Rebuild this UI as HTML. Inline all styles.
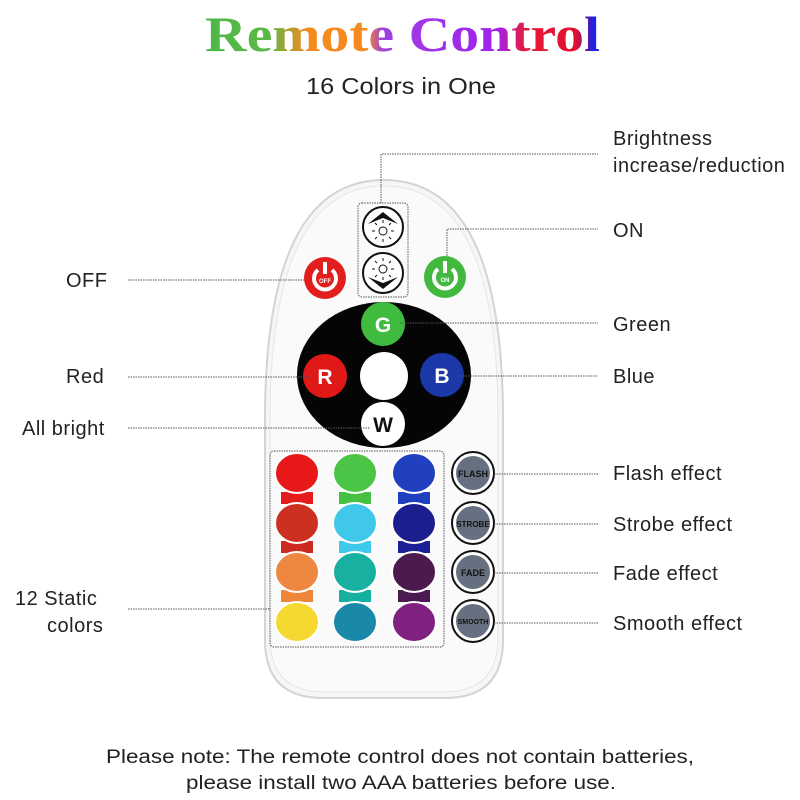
<!DOCTYPE html>
<html><head><meta charset="utf-8"><style>
html,body{margin:0;padding:0;background:#fff;width:800px;height:800px;overflow:hidden}
svg{display:block}
.l{font-family:"Liberation Sans",sans-serif;font-size:20px;fill:#222;letter-spacing:0.5px}
.d{stroke:#555;stroke-width:1;stroke-dasharray:1.5 1;fill:none}
.e{font-family:"Liberation Sans",sans-serif;font-size:9px;fill:#111;text-anchor:middle;font-weight:bold}
</style></head><body>
<svg width="800" height="800" viewBox="0 0 800 800">
<defs>
<linearGradient id="tg" x1="205" x2="600" y1="0" y2="0" gradientUnits="userSpaceOnUse">
<stop offset="0" stop-color="#4db848"/><stop offset="0.16" stop-color="#5cb846"/>
<stop offset="0.26" stop-color="#f58a1f"/><stop offset="0.41" stop-color="#f58a1f"/>
<stop offset="0.45" stop-color="#a040e0"/><stop offset="0.74" stop-color="#a020f0"/>
<stop offset="0.81" stop-color="#e81a3a"/><stop offset="0.94" stop-color="#e01030"/>
<stop offset="0.98" stop-color="#2020e0"/></linearGradient>
</defs>
<text x="205" y="51" textLength="395" lengthAdjust="spacingAndGlyphs" font-family="Liberation Serif,serif" font-weight="bold" font-size="50" fill="url(#tg)">Remote Control</text>
<text x="306" y="94" textLength="190" lengthAdjust="spacingAndGlyphs" class="l" style="font-size:23px;letter-spacing:0">16 Colors in One</text>

<!-- remote body -->
<path d="M265 420 C265 250 310 180 384 180 C458 180 503 250 503 420 L503 640 Q503 698 445 698 L323 698 Q265 698 265 640 Z" fill="#f6f6f6" stroke="#d4d4d4" stroke-width="2"/>
<path d="M270 420 C270 255 313 186 384 186 C455 186 498 255 498 420 L498 638 Q498 692 443 692 L325 692 Q270 692 270 638 Z" fill="#fafafa" stroke="#e6e6e6" stroke-width="1"/>

<!-- brightness box -->
<rect x="358" y="203" width="50" height="94" rx="4" class="d"/>
<circle cx="383" cy="227" r="20" fill="#fff" stroke="#111" stroke-width="2"/>
<path d="M368 224 L383 212 L398 224 L383 218 Z" fill="#111"/>
<circle cx="383" cy="231" r="4" fill="none" stroke="#111"/>
<path d="M375 231h-3M391 231h3M383 223v-3M383 239v3M377 225l-2-2M389 225l2-2M377 237l-2 2M389 237l2 2" stroke="#111"/>
<circle cx="383" cy="273" r="20" fill="#fff" stroke="#111" stroke-width="2"/>
<path d="M368 277 L383 289 L398 277 L383 283 Z" fill="#111"/>
<circle cx="383" cy="269" r="4" fill="none" stroke="#111"/>
<path d="M375 269h-3M391 269h3M383 261v-3M383 277v3M377 263l-2-2M389 263l2-2M377 275l-2 2M389 275l2 2" stroke="#111"/>

<!-- OFF / ON -->
<circle cx="325" cy="278" r="21" fill="#e31e1e"/>
<path d="M318 270 A11 11 0 1 0 332 270" stroke="#fff" stroke-width="4" fill="none"/>
<rect x="323" y="262" width="4" height="12" fill="#fff"/>
<text x="325" y="283" class="e" style="font-size:6px;fill:#fff">OFF</text>
<circle cx="445" cy="277" r="21" fill="#42b83f"/>
<path d="M438 269 A11 11 0 1 0 452 269" stroke="#fff" stroke-width="4" fill="none"/>
<rect x="443" y="261" width="4" height="12" fill="#fff"/>
<text x="445" y="282" class="e" style="font-size:6px;fill:#fff">ON</text>

<!-- black ellipse -->
<ellipse cx="384" cy="375" rx="87" ry="73" fill="#050505"/>
<circle cx="383" cy="324" r="22" fill="#3fbb3f"/>
<text x="383" y="332" text-anchor="middle" font-family="Liberation Sans,sans-serif" font-weight="bold" font-size="21" fill="#fff">G</text>
<circle cx="325" cy="376" r="22" fill="#e01818"/>
<text x="325" y="384" text-anchor="middle" font-family="Liberation Sans,sans-serif" font-weight="bold" font-size="21" fill="#fff">R</text>
<circle cx="442" cy="375" r="22" fill="#1a38a8"/>
<text x="442" y="383" text-anchor="middle" font-family="Liberation Sans,sans-serif" font-weight="bold" font-size="21" fill="#fff">B</text>
<circle cx="384" cy="376" r="24" fill="#fff"/>
<circle cx="383" cy="424" r="22" fill="#fff"/>
<text x="383" y="432" text-anchor="middle" font-family="Liberation Sans,sans-serif" font-weight="bold" font-size="21" fill="#111">W</text>

<!-- color grid -->
<rect x="270" y="451" width="174" height="196" rx="4" class="d"/>
<g>
<rect x="281" y="492" width="32" height="12" fill="#e51c1c"/><rect x="339" y="492" width="32" height="12" fill="#45c042"/><rect x="398" y="492" width="32" height="12" fill="#1f3fbf"/>
<rect x="281" y="541" width="32" height="12" fill="#cc2a1e"/><rect x="339" y="541" width="32" height="12" fill="#3ec8ec"/><rect x="398" y="541" width="32" height="12" fill="#1b1f95"/>
<rect x="281" y="590" width="32" height="12" fill="#ee8538"/><rect x="339" y="590" width="32" height="12" fill="#15b0a0"/><rect x="398" y="590" width="32" height="12" fill="#4a1a50"/>
</g>
<g stroke="#fff" stroke-width="2">
<ellipse cx="297" cy="473" rx="22" ry="20" fill="#e81818"/>
<ellipse cx="355" cy="473" rx="22" ry="20" fill="#4cc445"/>
<ellipse cx="414" cy="473" rx="22" ry="20" fill="#2040c0"/>
<ellipse cx="297" cy="523" rx="22" ry="20" fill="#cc3020"/>
<ellipse cx="355" cy="523" rx="22" ry="20" fill="#40c8ea"/>
<ellipse cx="414" cy="523" rx="22" ry="20" fill="#1c1e90"/>
<ellipse cx="297" cy="572" rx="22" ry="20" fill="#ee8840"/>
<ellipse cx="355" cy="572" rx="22" ry="20" fill="#18b0a0"/>
<ellipse cx="414" cy="572" rx="22" ry="20" fill="#4c1a4e"/>
<ellipse cx="297" cy="622" rx="22" ry="20" fill="#f5d830"/>
<ellipse cx="355" cy="622" rx="22" ry="20" fill="#1a88a8"/>
<ellipse cx="414" cy="622" rx="22" ry="20" fill="#802080"/>
</g>

<!-- effect buttons -->
<g>
<circle cx="473" cy="473" r="21" fill="#fff" stroke="#111" stroke-width="2"/><circle cx="473" cy="473" r="17" fill="#667080"/><text x="473" y="477" class="e">FLASH</text>
<circle cx="473" cy="523" r="21" fill="#fff" stroke="#111" stroke-width="2"/><circle cx="473" cy="523" r="17" fill="#667080"/><text x="473" y="527" class="e" style="font-size:8px">STROBE</text>
<circle cx="473" cy="572" r="21" fill="#fff" stroke="#111" stroke-width="2"/><circle cx="473" cy="572" r="17" fill="#667080"/><text x="473" y="576" class="e">FADE</text>
<circle cx="473" cy="621" r="21" fill="#fff" stroke="#111" stroke-width="2"/><circle cx="473" cy="621" r="17" fill="#667080"/><text x="473" y="624" class="e" style="font-size:7px">SMOOTH</text>
</g>

<!-- connectors -->
<path class="d" d="M128 280 H305"/>
<path class="d" d="M128 377 H310"/>
<path class="d" d="M128 428 H370"/>
<path class="d" d="M128 609 H270"/>
<path class="d" d="M381 203 V154 H598"/>
<path class="d" d="M447 256 V229 H598"/>
<path class="d" d="M400 323 H598"/>
<path class="d" d="M458 376 H598"/>
<path class="d" d="M494 474 H598"/>
<path class="d" d="M494 524 H598"/>
<path class="d" d="M494 573 H598"/>
<path class="d" d="M494 623 H598"/>

<!-- labels -->
<text x="613" y="145" class="l">Brightness</text>
<text x="613" y="172" class="l">increase/reduction</text>
<text x="613" y="237" class="l">ON</text>
<text x="613" y="331" class="l">Green</text>
<text x="613" y="383" class="l">Blue</text>
<text x="613" y="480" class="l">Flash effect</text>
<text x="613" y="531" class="l">Strobe effect</text>
<text x="613" y="580" class="l">Fade effect</text>
<text x="613" y="630" class="l">Smooth effect</text>
<text x="66" y="287" class="l">OFF</text>
<text x="66" y="383" class="l">Red</text>
<text x="22" y="435" class="l">All bright</text>
<text x="15" y="605" class="l">12 Static</text>
<text x="47" y="632" class="l">colors</text>

<text x="106" y="763" textLength="588" lengthAdjust="spacingAndGlyphs" class="l" style="font-size:19px;letter-spacing:0">Please note: The remote control does not contain batteries,</text>
<text x="186" y="789" textLength="430" lengthAdjust="spacingAndGlyphs" class="l" style="font-size:19px;letter-spacing:0">please install two AAA batteries before use.</text>
</svg>
</body></html>
